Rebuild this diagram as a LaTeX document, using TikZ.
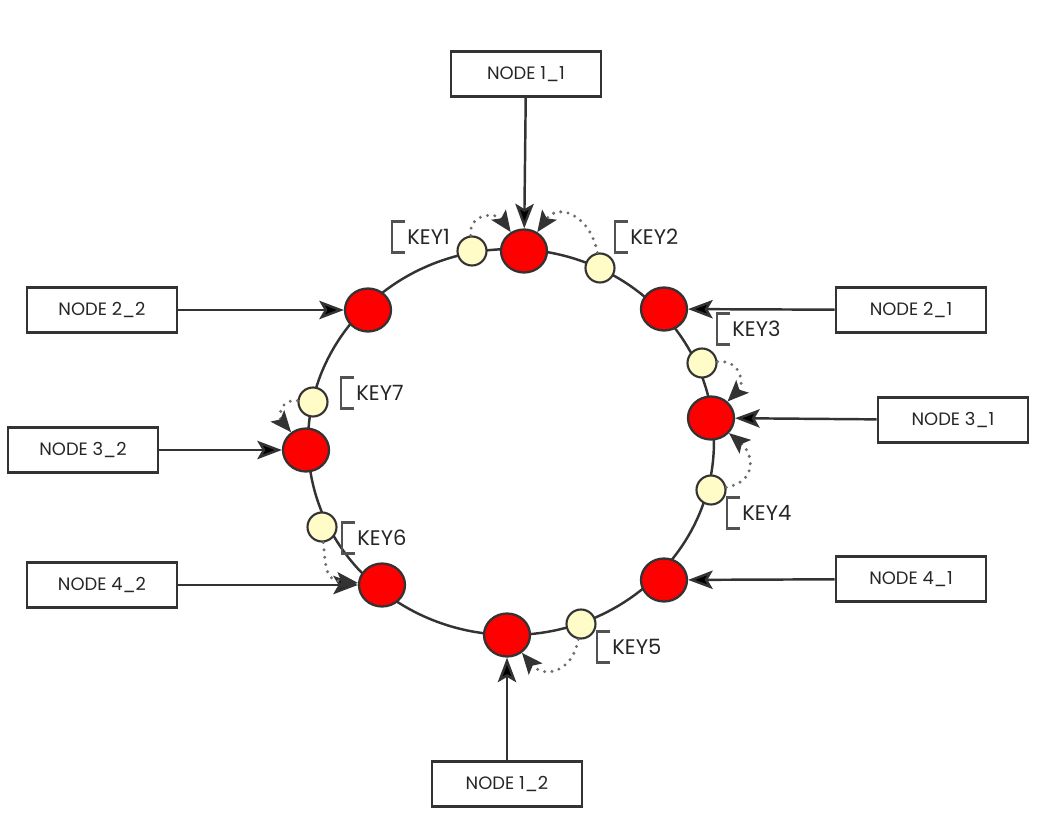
\documentclass[tikz,border=0pt]{standalone}
\usepackage{fontspec}
\setmainfont{Poppins}
\usetikzlibrary{arrows.meta,shapes.geometric}
\definecolor{ringgray}{HTML}{333333}
\definecolor{peerred}{HTML}{FF0000}
\definecolor{keyyellow}{HTML}{FFFCC8}
\definecolor{dotgray}{HTML}{6E6E6E}
\definecolor{textgray}{HTML}{262626}

\begin{document}
\begin{tikzpicture}[x=0.02cm,y=-0.02cm,>={Stealth[length=14pt,width=10.5pt,inset=3pt]},
    box/.style={draw=ringgray,line width=1.5pt,minimum width=3cm,minimum height=0.9cm,inner sep=0pt,
        font=\fontsize{10.2}{12}\selectfont,text=textgray},
    peer/.style={ellipse,draw=ringgray,fill=peerred,line width=1.3pt,minimum width=0.92cm,minimum height=0.86cm,inner sep=0pt},
    key/.style={circle,draw=ringgray,fill=keyyellow,line width=1.2pt,minimum size=0.58cm,inner sep=0pt},
    keytag/.style={anchor=west,inner xsep=0.3cm,inner ysep=0pt,minimum height=0.62cm,
        font=\fontsize{12}{14}\selectfont,text=textgray},
    bracket/.style={draw=ringgray!85,line width=1.6pt},
    feed/.style={->,draw=ringgray,line width=1.4pt},
    hop/.style={-{Stealth[length=12pt,width=10pt,inset=2.5pt,color=ringgray]},draw=dotgray,line width=1.9pt,
        dash pattern=on 0pt off 4.2pt,line cap=round,looseness=1.5}]
                \useasboundingbox (0,0) rectangle (1046,818);
                % the ring
                \draw[ringgray,line width=1.4pt] (511,442) ellipse [x radius=4.06cm, y radius=3.86cm];

                \node[box](n11)at(526, 74){NODE 1\_1};
                \node[box](n21)at(911, 310){NODE 2\_1};
                \node[box](n31)at(953, 420){NODE 3\_1};
                \node[box](n41)at(911, 579){NODE 4\_1};
                \node[box](n12)at(507, 784){NODE 1\_2};
                \node[box](n22)at(102, 310){NODE 2\_2};
                \node[box](n32)at(83, 450){NODE 3\_2};
                \node[box](n42)at(102, 585){NODE 4\_2};

                \node[peer](r1)at(524, 251){};
                \node[peer](r2)at(664, 309){};
                \node[peer](r3)at(711, 418){};
                \node[peer](r4)at(664, 580){};
                \node[peer](r5)at(507, 635){};
                \node[peer](r6)at(382, 585){};
                \node[peer](r7)at(306, 450){};
                \node[peer](r8)at(368, 310){};

                \node[key](k1)at(472, 251){};
                \node[key](k2)at(600, 268){};
                \node[key](k3)at(702, 363){};
                \node[key](k4)at(711, 490){};
                \node[key](k5)at(581, 624){};
                \node[key](k6)at(322, 527){};
                \node[key](k7)at(313, 402){};

                \node[keytag](t1)at(392, 237){KEY1};
                \node[keytag](t2)at(615, 237){KEY2};
                \node[keytag](t3)at(717, 329){KEY3};
                \node[keytag](t4)at(727, 513){KEY4};
                \node[keytag](t5)at(597, 647){KEY5};
                \node[keytag](t6)at(342, 538){KEY6};
                \node[keytag](t7)at(341, 393){KEY7};
                \foreach \t in {t1,t2,t3,t4,t5,t6,t7}
                    \draw[bracket] ([xshift=0.26cm]\t.north west) -- (\t.north west) -- (\t.south west) -- ++(0.26cm,0);

                \path[feed](n11) edge (r1)
                (n21) edge (r2)
                (n31) edge (r3)
                (n41) edge (r4)
                (n12) edge (r5)
                (n42) edge (r6)
                (n32) edge (r7)
                (n22) edge (r8);
                \path[]
                (k1) edge[hop,out=95,in=125] (r1)
                (k2) edge[hop,out=100,in=55] (r1)
                (k3) edge[hop,out=5,in=45] (r3)
                (k4) edge[hop,out=10,in=-40] (r3)
                (k5) edge[hop,out=-100,in=-50] (r5)
                (k6) edge[hop,out=-85,in=175] (r6)
                (k7) edge[hop,out=175,in=130] (r7);
            \end{tikzpicture}
\end{document}
